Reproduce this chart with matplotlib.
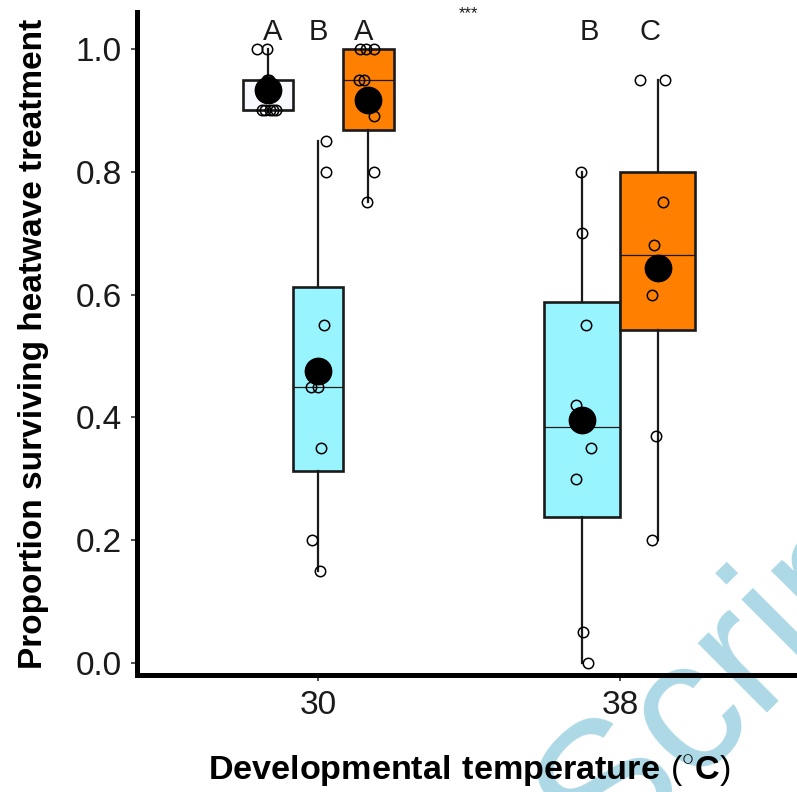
import numpy as np
import matplotlib.pyplot as plt

plt.rcParams['font.family'] = ['Liberation Sans', 'DejaVu Sans']
plt.rcParams['mathtext.fontset'] = 'custom'
plt.rcParams['mathtext.rm'] = 'Liberation Sans'
plt.rcParams['mathtext.bf'] = 'Liberation Sans:bold'

# ---------------------------------------------------------------
# data
temps = ['30', '38']
yticks = [0.0, 0.2, 0.4, 0.6, 0.8, 1.0]

group_temp = [0, 0, 0, 1, 1]      # which developmental temperature
group_slot = [0, 1, 2, 0, 1]      # dodge slot within temperature
group_fill = ['#F8F8FF', '#98F5FF', '#FF7F00', '#98F5FF', '#FF7F00']

surv_30_a = [1.0, 1.0, 0.95, 0.95, 0.9, 0.9, 0.9, 0.9, 0.9]
surv_30_b = [0.85, 0.8, 0.55, 0.45, 0.45, 0.35, 0.2, 0.15]
surv_30_c = [1.0, 1.0, 1.0, 0.95, 0.95, 0.89, 0.8, 0.75]
surv_38_b = [0.8, 0.7, 0.55, 0.42, 0.35, 0.3, 0.05, 0.0]
surv_38_c = [0.95, 0.95, 0.75, 0.68, 0.65, 0.6, 0.37, 0.2]

# horizontal jitter of the raw points
jit_30_a = [-0.036, -0.003, -0.002, 0.003, -0.02, -0.01, 0.007, 0.017, 0.026]
jit_30_b = [0.026, 0.026, 0.02, -0.023, 0.0, 0.01, -0.02, 0.007]
jit_30_c = [-0.028, -0.008, 0.018, -0.03, -0.015, 0.018, 0.018, -0.005]
jit_38_b = [-0.003, 0.0, 0.013, -0.02, 0.03, -0.02, 0.003, 0.02]
jit_38_c = [-0.06, 0.023, 0.017, -0.013, 0.0, -0.02, -0.007, -0.02]

letters = ['A', 'B', 'A', 'B', 'C']
letter_x = [0.848, 1.0, 1.152, 1.9, 2.1]
# ---------------------------------------------------------------

groups = [surv_30_a, surv_30_b, surv_30_c, surv_38_b, surv_38_c]
jitters = [jit_30_a, jit_30_b, jit_30_c, jit_38_b, jit_38_c]

dodge = 0.5
n_slots = [group_temp.count(t) for t in range(len(temps))]
centers, widths = [], []
for t, s in zip(group_temp, group_slot):
    w = dodge / n_slots[t]
    centers.append(t + 1 + (s - (n_slots[t] - 1) / 2) * w)
    widths.append(w)

fig = plt.figure(figsize=(7.97, 7.92), dpi=100)
ax = fig.add_axes([137 / 797, 117 / 792, 664 / 797, 663 / 792])
ax.patch.set_alpha(0)

bp = ax.boxplot(groups, positions=centers, widths=widths, patch_artist=True,
                showfliers=False, showcaps=False, whis=1.5, manage_ticks=False,
                boxprops=dict(linewidth=1.9, edgecolor='#1a1a1a'),
                whiskerprops=dict(linewidth=1.6, color='#1a1a1a'),
                medianprops=dict(linewidth=0.9, color='#1a1a1a'))
for patch, col in zip(bp['boxes'], group_fill):
    patch.set_facecolor(col)

for c, vals, jit in zip(centers, groups, jitters):
    ax.plot(np.array(jit) + c, vals, 'o', mfc='none', mec='black',
            ms=7.5, mew=1.1, zorder=3)
    ax.plot(c, np.mean(vals), 'o', color='black', ms=19, zorder=4)

for lx, lab in zip(letter_x, letters):
    ax.text(lx, 1.028, lab, ha='center', va='center', fontsize=21, color='#1a1a1a')
ax.text(1.497, 1.058, '***', ha='center', va='center', fontsize=12, color='#1a1a1a')

ax.set_xlim(0.4, 2.6)
ax.set_ylim(-0.0195, 1.06)
ax.set_xticks([1, 2])
ax.set_xticklabels(temps)
ax.set_yticks(yticks)
ax.set_yticklabels(['%.1f' % v for v in yticks])
ax.tick_params(direction='out', length=4, width=1.2, color='#333333',
               labelsize=24, labelcolor='#1a1a1a', pad=7)

for side in ['top', 'right']:
    ax.spines[side].set_visible(False)
for side in ['left', 'bottom']:
    ax.spines[side].set_linewidth(3.6)
    ax.spines[side].set_color('black')

ax.set_ylabel('Proportion surviving heatwave treatment', fontsize=24,
              fontweight='bold')
ax.yaxis.set_label_coords(-0.1325, 0.5)
ax.set_xlabel(r'$\mathbf{Developmental\ temperature}\ (^{\circ}\mathbf{C})$',
              fontsize=24.6)
ax.xaxis.set_label_coords(0.5, -0.118)

fig.text(0.757, -0.097, 'Script', rotation=45, rotation_mode='anchor',
         ha='left', va='baseline', fontsize=134, color='#ADD8E6', zorder=-1)

fig.savefig('out.png', dpi=100)
